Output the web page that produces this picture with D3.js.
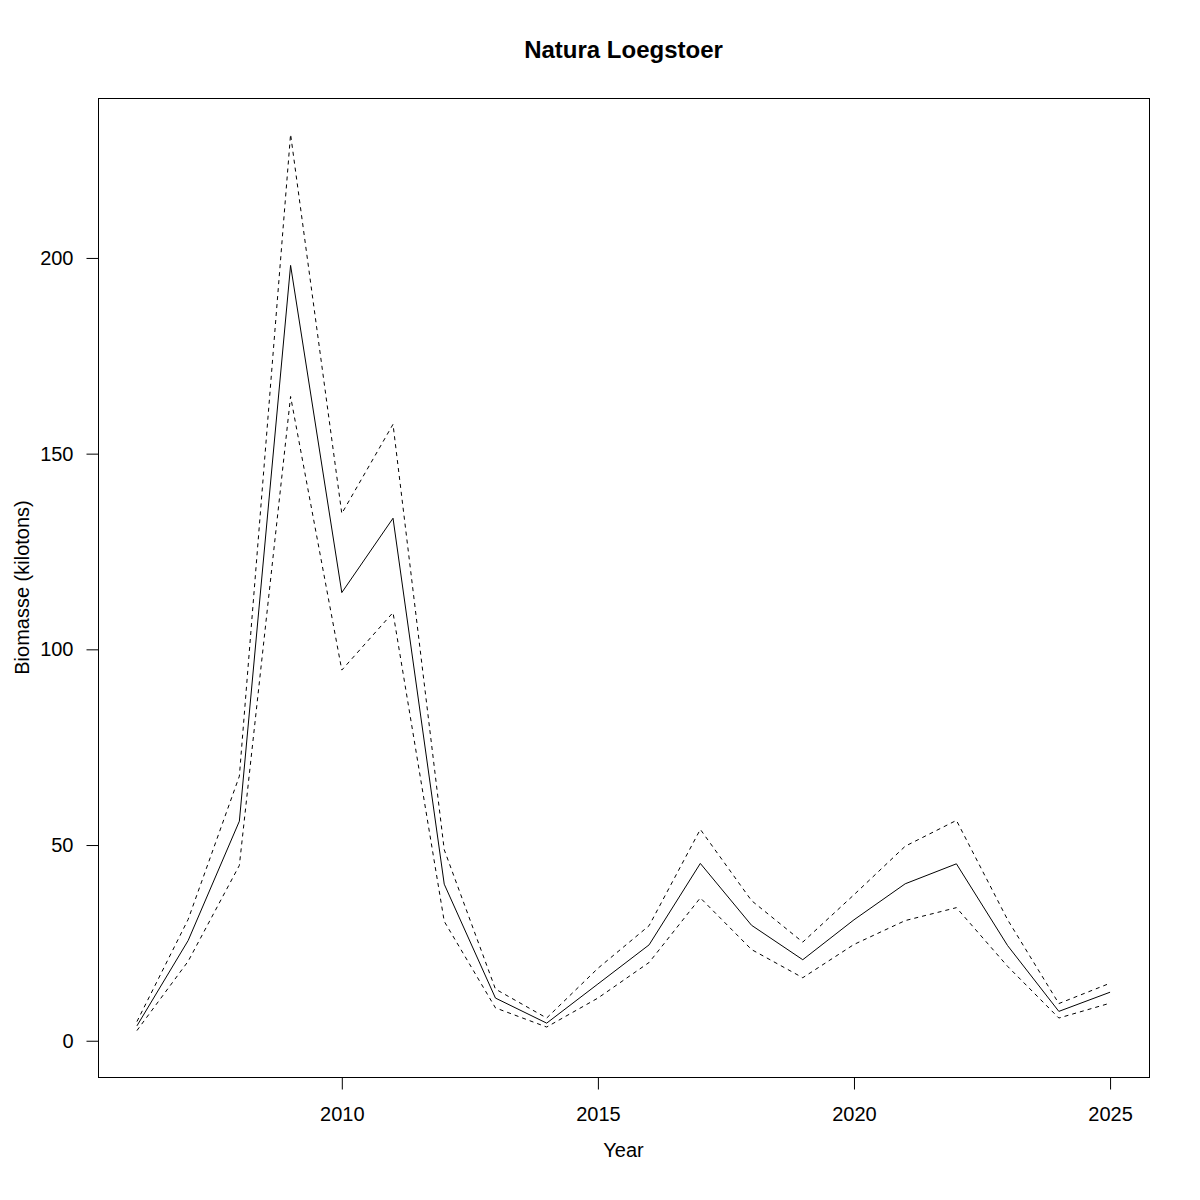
<!DOCTYPE html>
<html>
<head>
<meta charset="utf-8">
<script src="https://cdn.jsdelivr.net/npm/d3@7"></script>
<style>
  html, body { margin: 0; padding: 0; background: #fff; }
  text { font-family: "Liberation Sans", Arial, Helvetica, sans-serif; fill: #000; }
</style>
</head>
<body>
<svg id="chart" width="1200" height="1200"></svg>
<script>
const years = [2006, 2007, 2008, 2009, 2010, 2011, 2012, 2013, 2014, 2015,
               2016, 2017, 2018, 2019, 2020, 2021, 2022, 2023, 2024, 2025];
const biomass = [3.8, 25.6, 56.1, 198.1, 114.5, 133.5, 40.0, 10.9, 4.5, 14.5,
                 24.5, 45.3, 29.5, 20.7, 30.9, 40.1, 45.2, 24.3, 7.5, 12.4];
const upper = [4.9, 31.0, 67.6, 231.6, 134.7, 157.5, 48.8, 13.2, 5.8, 18.5,
               29.4, 54.0, 35.8, 25.2, 37.3, 49.7, 56.3, 30.9, 9.5, 14.7];
const lower = [2.6, 20.3, 44.8, 164.6, 94.7, 109.4, 30.5, 8.4, 3.5, 10.9,
               20.0, 36.5, 23.3, 16.1, 24.6, 30.7, 34.0, 19.0, 5.8, 9.6];
const xTicks = [2010, 2015, 2020, 2025];
const yTicks = [0, 50, 100, 150, 200];
const title = "Natura Loegstoer";
const xLabel = "Year";
const yLabel = "Biomasse (kilotons)";

const svg = d3.select("#chart");
const pLeft = 98, pRight = 1149, pTop = 98, pBottom = 1077;

// R-style 4% axis extension
const xmin = d3.min(years), xmax = d3.max(years);
const xext = (xmax - xmin) * 0.04;
const x = d3.scaleLinear().domain([xmin - xext, xmax + xext]).range([pLeft, pRight]);
const ymin = 0, ymax = d3.max(upper);
const yext = (ymax - ymin) * 0.04;
const y = d3.scaleLinear().domain([ymin - yext, ymax + yext]).range([pBottom, pTop]);

// box
svg.append("rect")
  .attr("x", pLeft + 0.5).attr("y", pTop + 0.5)
  .attr("width", pRight - pLeft).attr("height", pBottom - pTop)
  .attr("fill", "none").attr("stroke", "#000").attr("stroke-width", 1);

// axes
const xAxis = d3.axisBottom(x).tickValues(xTicks).tickFormat(d3.format("d"))
  .tickSize(12).tickPadding(17);
const gx = svg.append("g").attr("transform", `translate(0,${pBottom + 0.5})`).call(xAxis);
gx.select(".domain").remove();
gx.selectAll("text").style("font-size", "20px").attr("font-family", null);
gx.selectAll("line").attr("stroke", "#000");

const yAxis = d3.axisLeft(y).tickValues(yTicks).tickFormat(d3.format("d"))
  .tickSize(12).tickPadding(13);
const gy = svg.append("g").attr("transform", `translate(${pLeft + 0.5},0)`).call(yAxis);
gy.select(".domain").remove();
gy.selectAll("text").style("font-size", "20px").attr("font-family", null);
gy.selectAll("line").attr("stroke", "#000");

// lines
const line = vals => d3.line()
  .x((d, i) => x(years[i]))
  .y(d => y(d))(vals);

svg.append("path").attr("d", line(upper))
  .attr("fill", "none").attr("stroke", "#000").attr("stroke-width", 1)
  .attr("stroke-dasharray", "4,4");
svg.append("path").attr("d", line(lower))
  .attr("fill", "none").attr("stroke", "#000").attr("stroke-width", 1)
  .attr("stroke-dasharray", "4,4");
svg.append("path").attr("d", line(biomass))
  .attr("fill", "none").attr("stroke", "#000").attr("stroke-width", 1);

// titles
svg.append("text").attr("x", (pLeft + pRight) / 2).attr("y", 58)
  .attr("text-anchor", "middle").style("font-size", "24px").style("font-weight", "bold")
  .text(title);
svg.append("text").attr("x", (pLeft + pRight) / 2).attr("y", 1157)
  .attr("text-anchor", "middle").style("font-size", "20px").text(xLabel);
svg.append("text").attr("transform", `translate(29,${(pTop + pBottom) / 2}) rotate(-90)`)
  .attr("text-anchor", "middle").style("font-size", "20px").text(yLabel);
</script>
</body>
</html>
